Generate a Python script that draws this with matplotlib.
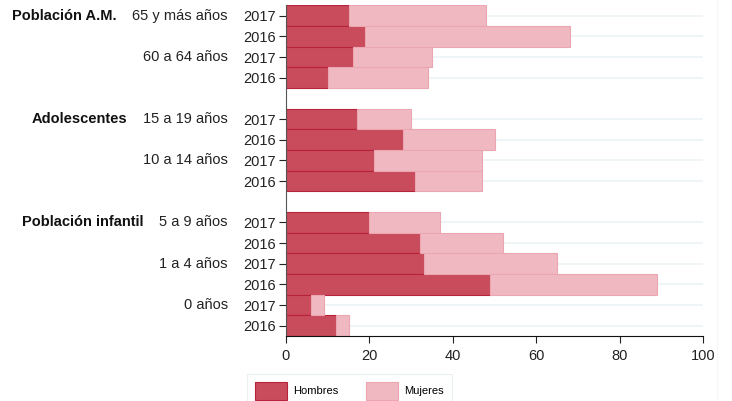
import matplotlib
matplotlib.use("Agg")
import matplotlib.pyplot as plt
from matplotlib.lines import Line2D
import numpy as np

plt.rcParams["font.family"] = ["Liberation Sans", "DejaVu Sans"]

# --- data -------------------------------------------------------------
groups = ["Población A.M.", "Adolescentes", "Población infantil"]
age_groups = [["65 y más años", "60 a 64 años"],
              ["15 a 19 años", "10 a 14 años"],
              ["5 a 9 años", "1 a 4 años", "0 años"]]
years = ["2017", "2016"]
hombres = [15, 19, 16, 10, 17, 28, 21, 31, 20, 32, 33, 49, 6, 12]
mujeres = [33, 49, 19, 24, 13, 22, 26, 16, 17, 20, 32, 40, 3, 3]

c_h, e_h = "#c84c5c", "#b8233c"
c_m, e_m = "#f0b8c1", "#eca6b2"
FS = 10.5

# slot positions: one empty slot between groups
pos, year_lbl, age_pos, grp_first = [], [], [], []
slot = 0
for g, ages in enumerate(age_groups):
    grp_first.append(len(age_pos))
    for a in ages:
        age_pos.append(slot)
        for yr in years:
            pos.append(slot); year_lbl.append(yr); slot += 1
    slot += 1
pos = np.array(pos)

fig = plt.figure(figsize=(7.32, 4.01), dpi=100)
ax = fig.add_axes([286/732, 1-336/401, 417.3/732, (336-5.4)/401])

for p in pos:
    ax.axhline(p, color="#eef3f6", lw=1.3, zorder=0)
ax.barh(pos, hombres, height=1.0, color=c_h, edgecolor=e_h, lw=0.8, zorder=2)
ax.barh(pos, mujeres, left=hombres, height=1.0, color=c_m, edgecolor=e_m, lw=0.8, zorder=2)

ax.set_xlim(0, 100)
ax.set_ylim(slot - 1 - 0.5, -0.5)
ax.set_xticks([0, 20, 40, 60, 80, 100])
ax.set_yticks(pos)
ax.set_yticklabels(year_lbl)
ax.tick_params(axis="both", labelsize=FS, colors="#222222", length=5, width=0.8, pad=2)
ax.tick_params(axis="x", pad=4)
for s in ["top", "right"]:
    ax.spines[s].set_visible(False)
ax.spines["left"].set_color("#555555")
ax.spines["bottom"].set_color("#111111")

# age labels and group labels
trans = ax.get_yaxis_transform()
ages_flat = [a for ages in age_groups for a in ages]
age_texts = []
for a, p in zip(ages_flat, age_pos):
    t = ax.text(-0.139, p, a, transform=trans, ha="right", va="center",
                fontsize=FS, color="#222222")
    age_texts.append(t)
for g, i in zip(groups, grp_first):
    ax.annotate(g, xy=(0, 0.5), xycoords=age_texts[i], xytext=(-11.5, 0),
                textcoords="offset points", ha="right", va="center",
                fontsize=FS, fontweight="bold", color="#111111")

# legend (partly below the canvas, as in the source)
handles = [plt.Rectangle((0, 0), 1, 1, fc=c_h, ec=e_h, lw=0.8),
           plt.Rectangle((0, 0), 1, 1, fc=c_m, ec=e_m, lw=0.8)]
leg = fig.legend(handles, ["Hombres", "Mujeres"], loc="upper left",
                 bbox_to_anchor=(247/732, 1-374/401), ncol=2, fontsize=8,
                 frameon=True, fancybox=False, edgecolor="#e6ebee",
                 handlelength=2.9, handleheight=2.1, handletextpad=0.55,
                 columnspacing=2.5, borderpad=0.7, borderaxespad=0)
leg.get_frame().set_linewidth(0.8)

fig.add_artist(Line2D([717/732, 717/732], [0, 1], color="#f4f6f8", lw=0.8))

fig.savefig("out.png", dpi=100)
